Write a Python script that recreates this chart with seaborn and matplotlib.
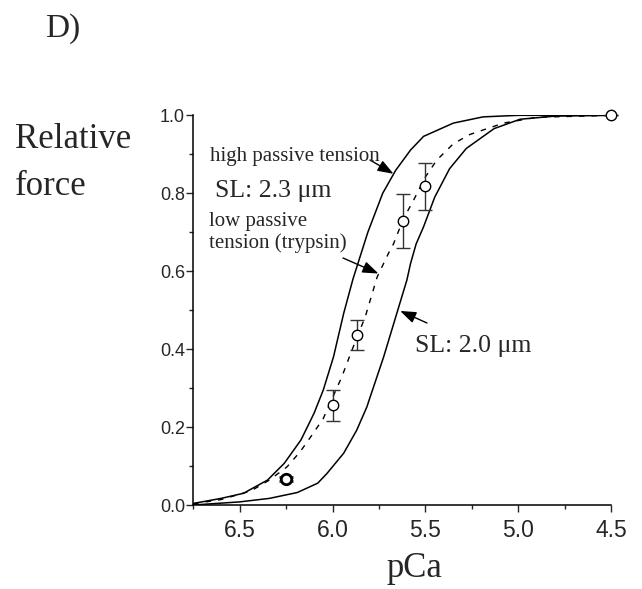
import numpy as np
import pandas as pd
import matplotlib
matplotlib.use("Agg")
import matplotlib.pyplot as plt
import seaborn as sns
from matplotlib.ticker import MultipleLocator

# === Données ===
# courbe SL 2.3 um (forte tension passive)
pca_hi = [6.75, 6.60, 6.48, 6.35, 6.26, 6.17, 6.10, 6.05, 5.995, 5.94, 5.89, 5.81,
          5.73, 5.66, 5.58, 5.51, 5.35, 5.19, 5.00, 4.50]
force_hi = [0.004, 0.017, 0.030, 0.064, 0.107, 0.167, 0.235, 0.295, 0.380, 0.492, 0.580, 0.700,
            0.800, 0.859, 0.911, 0.946, 0.980, 0.996, 1.000, 1.000]

# courbe SL 2.0 um
pca_lo = [6.75, 6.50, 6.34, 6.19, 6.08, 6.03, 5.94, 5.87, 5.815, 5.797, 5.725, 5.654,
          5.60, 5.58, 5.55, 5.51, 5.45, 5.37, 5.28, 5.13, 4.99, 4.80, 4.50]
force_lo = [0.000, 0.008, 0.017, 0.032, 0.056, 0.081, 0.133, 0.192, 0.252, 0.278, 0.380, 0.492,
            0.577, 0.620, 0.670, 0.714, 0.790, 0.863, 0.915, 0.966, 0.990, 0.998, 1.000]

# courbe trypsine (faible tension passive), en pointillés
pca_tr = [6.75, 6.60, 6.44, 6.34, 6.245, 6.174, 6.11, 6.05, 6.01, 5.95, 5.896, 5.824,
          5.76, 5.70, 5.672, 5.618, 5.564, 5.50, 5.439, 5.35, 5.26, 5.08, 4.90, 4.50]
force_tr = [0.003, 0.014, 0.036, 0.064, 0.098, 0.137, 0.180, 0.222, 0.265, 0.329, 0.397, 0.483,
            0.585, 0.645, 0.670, 0.735, 0.782, 0.842, 0.885, 0.927, 0.951, 0.980, 0.995, 1.000]

# points expérimentaux
pca_data = [6.25, 6.0, 5.87, 5.62, 5.5, 4.5]
force_data = [0.067, 0.256, 0.436, 0.728, 0.818, 1.0]
force_err = [0.006, 0.040, 0.039, 0.069, 0.060, 0.0]

sns.set_style("ticks")
plt.rcParams['font.family'] = ['Liberation Sans', 'DejaVu Sans']
serif = ['Liberation Serif', 'DejaVu Serif']

fig = plt.figure(figsize=(6.42, 5.89), dpi=100)
ax = fig.add_axes([0.301, 0.1426, 0.651, 0.6616])

sns.lineplot(x=pca_hi, y=force_hi, sort=False, estimator=None, color="black", lw=1.1, ax=ax)
sns.lineplot(x=pca_lo, y=force_lo, sort=False, estimator=None, color="black", lw=1.1, ax=ax)
sns.lineplot(x=pca_tr, y=force_tr, sort=False, estimator=None, color="black", lw=1.0,
             linestyle=(0, (4, 5)), ax=ax)

# le premier point est tracé plus épais (comme sur l'original)
ax.errorbar(pca_data[:1], force_data[:1], yerr=force_err[:1], fmt="o", mfc="white", mec="black",
            ms=7.5, mew=2.0, ecolor="#333333", elinewidth=1.0, capsize=5, capthick=1.0,
            zorder=5, clip_on=False)
ax.errorbar(pca_data[1:], force_data[1:], yerr=force_err[1:], fmt="o", mfc="white", mec="black",
            ms=7.5, mew=1.0, ecolor="#333333", elinewidth=1.0, capsize=5, capthick=1.0,
            zorder=5, clip_on=False)

ax.set_xlim(6.75, 4.5)
ax.set_ylim(0, 1.0)
ax.xaxis.set_minor_locator(MultipleLocator(0.25))
ax.yaxis.set_minor_locator(MultipleLocator(0.1))
ax.set_xticks([6.5, 6.0, 5.5, 5.0, 4.5])
ax.set_xticklabels(["6.5", "6.0", "5.5", "5.0", "4.5"])
ax.set_yticks([0.0, 0.2, 0.4, 0.6, 0.8, 1.0])
ax.set_yticklabels(["0.0", "0.2", "0.4", "0.6", "0.8", "1.0"])
ax.tick_params(axis="x", which="major", direction="out", length=5, width=1, labelsize=16.5, pad=5)
ax.tick_params(axis="y", which="major", direction="out", length=5, width=1, labelsize=13, pad=1)
ax.tick_params(which="minor", direction="out", length=3, width=1)
ax.set_xlabel("")
ax.set_ylabel("")
sns.despine(ax=ax)
for s in ["left", "bottom"]:
    ax.spines[s].set_linewidth(1.1)
    ax.spines[s].set_color("black")

# textes
W, H = 642, 589
def fx(px):
    return px / W
def fy(py):
    return 1 - py / H

fig.text(fx(45), fy(37), "D)", family=serif, fontsize=24)
fig.text(fx(15), fy(148), "Relative", family=serif, fontsize=25)
fig.text(fx(15), fy(195), "force", family=serif, fontsize=25)
fig.text(fx(414), fy(577), "pCa", family=serif, fontsize=25, ha="center")

fig.text(fx(210), fy(161), "high passive tension", family=serif, fontsize=15)
fig.text(fx(215), fy(197), "SL: 2.3 μm", family=serif, fontsize=18.5)
fig.text(fx(209), fy(226), "low passive", family=serif, fontsize=15)
fig.text(fx(209), fy(248), "tension (trypsin)", family=serif, fontsize=15)
fig.text(fx(415), fy(352), "SL: 2.0 μm", family=serif, fontsize=18.5)

arrow = dict(arrowstyle="-|>,head_length=0.6,head_width=0.22", color="black", lw=1.0,
             mutation_scale=16, shrinkA=0, shrinkB=0)
ax.annotate("", xy=(5.672, 0.85), xytext=(fx(370), fy(160)), textcoords="figure fraction",
            arrowprops=arrow)
ax.annotate("", xy=(5.753, 0.594), xytext=(fx(343), fy(258)), textcoords="figure fraction",
            arrowprops=arrow)
ax.annotate("", xy=(5.636, 0.498), xytext=(fx(427), fy(323)), textcoords="figure fraction",
            arrowprops=arrow)

fig.savefig("out.png", dpi=100, facecolor="white")
